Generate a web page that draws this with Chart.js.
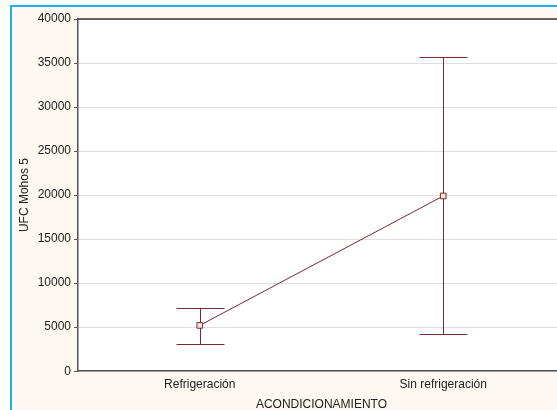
<!DOCTYPE html>
<html>
<head>
<meta charset="utf-8">
<script src="https://cdn.jsdelivr.net/npm/chart.js@4/dist/chart.umd.min.js"></script>
<style>
  html, body { margin: 0; padding: 0; background: #ffffff; overflow: hidden; width: 557px; height: 410px; }
  #panel {
    position: absolute; left: 10px; top: 5px; width: 600px; height: 420px;
    background: #fdf9f0; border-left: 2px solid #1db2ef; border-top: 2px solid #1db2ef;
  }
  #wrap { position: absolute; left: 0px; top: 0px; width: 558px; height: 405px; }
</style>
</head>
<body>
<div id="panel"><div id="wrap"><canvas id="c"></canvas></div></div>
<script>
// Means and confidence limits per storage condition
const categories = ['Refrigeración', 'Sin refrigeración'];
const means = [5200, 19900];
const upperLimits = [7230, 35720];
const lowerLimits = [3070, 4170];
const yTicks = [0, 5000, 10000, 15000, 20000, 25000, 30000, 35000, 40000];

const FONT = '"Liberation Sans", Arial, sans-serif';
const MARK = '#7a2a2f';

// White plotting area behind the grid
const plotBackground = {
  id: 'plotBackground',
  beforeDraw(chart) {
    const { ctx, chartArea: a } = chart;
    ctx.save();
    ctx.fillStyle = '#ffffff';
    ctx.fillRect(a.left, a.top, a.right - a.left, a.bottom - a.top);
    ctx.restore();
  }
};

// Vertical whiskers with caps, plus the dark top edge of the plot frame
const whiskers = {
  id: 'whiskers',
  beforeDatasetsDraw(chart) {
    const { ctx, scales: { x, y }, chartArea } = chart;
    ctx.save();
    ctx.strokeStyle = '#333';
    ctx.lineWidth = 1.5;
    ctx.beginPath();
    ctx.moveTo(chartArea.left, chartArea.top);
    ctx.lineTo(chartArea.right, chartArea.top);
    ctx.stroke();

    ctx.strokeStyle = MARK;
    ctx.lineWidth = 1;
    const cap = 24;
    categories.forEach((c, i) => {
      const px = Math.round(x.getPixelForValue(i)) + 0.5;
      const hi = Math.round(y.getPixelForValue(upperLimits[i])) + 0.5;
      const lo = Math.round(y.getPixelForValue(lowerLimits[i])) + 0.5;
      ctx.beginPath();
      ctx.moveTo(px, hi); ctx.lineTo(px, lo);
      ctx.moveTo(px - cap, hi); ctx.lineTo(px + cap, hi);
      ctx.moveTo(px - cap, lo); ctx.lineTo(px + cap, lo);
      ctx.stroke();
    });
    ctx.restore();
  }
};

new Chart(document.getElementById('c'), {
  type: 'line',
  data: {
    labels: categories,
    datasets: [{
      data: means,
      borderColor: MARK,
      borderWidth: 1,
      pointStyle: 'rect',
      pointRadius: 4,
      pointBackgroundColor: '#f3e3e3',
      pointBorderColor: MARK,
      pointBorderWidth: 1,
      tension: 0
    }]
  },
  plugins: [plotBackground, whiskers],
  options: {
    responsive: true,
    maintainAspectRatio: false,
    animation: false,
    layout: { padding: { top: 12, right: 0, bottom: 0, left: 0 } },
    plugins: { legend: { display: false }, tooltip: { enabled: false } },
    scales: {
      x: {
        type: 'category',
        offset: true,
        grid: { display: true, drawOnChartArea: false, drawTicks: false },
        border: { display: true, color: '#555', width: 1.5 },
        ticks: { color: '#222', font: { family: FONT, size: 12 }, padding: 6, maxRotation: 0 },
        title: { display: true, text: 'ACONDICIONAMIENTO', color: '#222', font: { family: FONT, size: 12 }, padding: { top: 0, bottom: 0 } }
      },
      y: {
        min: 0, max: 40000,
        afterBuildTicks(scale) { scale.ticks = yTicks.map(v => ({ value: v })); },
        afterFit(scale) { scale.width = 66; },
        grid: { color: '#dedede', lineWidth: 1, drawTicks: true, tickLength: 4, tickColor: '#555' },
        border: { display: true, color: '#555', width: 1.5 },
        ticks: { color: '#222', font: { family: FONT, size: 12 }, padding: 3, callback: v => String(v) },
        title: { display: true, text: 'UFC Mohos 5', color: '#222', font: { family: FONT, size: 12 }, padding: { top: 5, bottom: 0 } }
      }
    }
  }
});
</script>
</body>
</html>
